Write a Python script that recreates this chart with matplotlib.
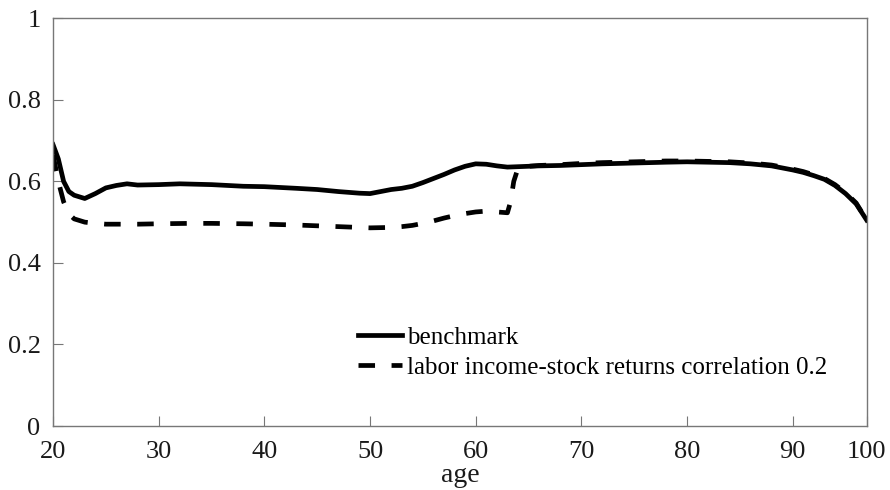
import matplotlib
matplotlib.use("Agg")
import matplotlib.pyplot as plt

plt.rcParams["font.family"] = ["Liberation Serif", "DejaVu Serif"]

# benchmark (solid)
age_bench = [20, 20.5, 21, 21.5, 22, 23, 24, 25, 26, 27, 28, 30, 32, 35, 38, 40, 43, 45, 47,
             49, 50, 51, 52, 53, 54, 55, 56, 57, 58, 59, 60, 61, 62, 63, 64, 66, 68, 70,
             72, 75, 78, 80, 82, 84, 86, 88, 90, 91, 92, 93, 94, 95, 96, 97]
share_bench = [0.69, 0.655, 0.6, 0.575, 0.566, 0.558, 0.57, 0.584, 0.59, 0.594, 0.591, 0.592,
               0.594, 0.592, 0.588, 0.587, 0.583, 0.58, 0.575, 0.571, 0.57, 0.575, 0.58,
               0.583, 0.588, 0.597, 0.607, 0.617, 0.628, 0.637, 0.643, 0.642, 0.638, 0.635,
               0.636, 0.638, 0.639, 0.641, 0.643, 0.645, 0.647, 0.648, 0.647, 0.646, 0.643,
               0.638, 0.628, 0.622, 0.614, 0.605, 0.59, 0.57, 0.545, 0.505]

# labor income-stock returns correlation 0.2 (dashed)
age_corr = [20, 20.5, 21, 21.5, 22, 23, 24, 25, 28, 30, 33, 35, 38, 40, 43, 45, 48, 50, 52,
            53, 54, 55, 56, 57, 58, 59, 60, 61, 62, 63, 63.3, 63.6, 64, 64.5, 66, 68, 70,
            72, 75, 78, 80, 82, 84, 86, 88, 90, 91, 92, 93, 94, 95, 96, 97]
share_corr = [0.665, 0.6, 0.55, 0.52, 0.508, 0.5, 0.497, 0.495, 0.495, 0.496, 0.497, 0.497,
              0.496, 0.495, 0.493, 0.491, 0.488, 0.486, 0.487, 0.489, 0.492, 0.497, 0.503,
              0.51, 0.516, 0.521, 0.525, 0.527, 0.525, 0.523, 0.55, 0.6, 0.632, 0.636,
              0.639, 0.641, 0.644, 0.646, 0.648, 0.65, 0.65, 0.649, 0.648, 0.645, 0.64,
              0.63, 0.624, 0.616, 0.607, 0.592, 0.572, 0.547, 0.505]

x_ticks = [20, 30, 40, 50, 60, 70, 80, 90, 97]
x_labels = ["20", "30", "40", "50", "60", "70", "80", "90", "100"]
y_ticks = [0, 0.2, 0.4, 0.6, 0.8, 1]
y_labels = ["0", "0.2", "0.4", "0.6", "0.8", "1"]

fig = plt.figure(figsize=(8.9, 4.9), dpi=100)
ax = fig.add_axes([0.0596, 0.1306, 0.9142, 0.8321])

ax.plot(age_bench, share_bench, color="black", lw=3.4, label="benchmark")
ax.plot(age_corr, share_corr, color="black", lw=3.4, dashes=(3.5, 3.5),
        label="labor income-stock returns correlation 0.2")

ax.set_xlim(20, 97)
ax.set_ylim(0, 1)
ax.set_xticks(x_ticks)
ax.set_xticklabels(x_labels)
ax.set_yticks(y_ticks)
ax.set_yticklabels(y_labels)
ax.tick_params(direction="in", length=7, color="#777777", labelsize=19,
               labelcolor="#1a1a1a")
ax.tick_params(axis="y", pad=9)
ax.tick_params(axis="x", pad=11)
for s in ax.spines.values():
    s.set_color("#777777")
    s.set_linewidth(1.0)

ax.set_xlabel("age", fontsize=20, color="#1a1a1a", labelpad=0)

ax.legend(loc="upper left", bbox_to_anchor=(0.36, 0.275), frameon=False, fontsize=18,
          handlelength=1.75, handletextpad=0.2, labelspacing=0.3, borderpad=0)

fig.savefig("out.png", dpi=100)
